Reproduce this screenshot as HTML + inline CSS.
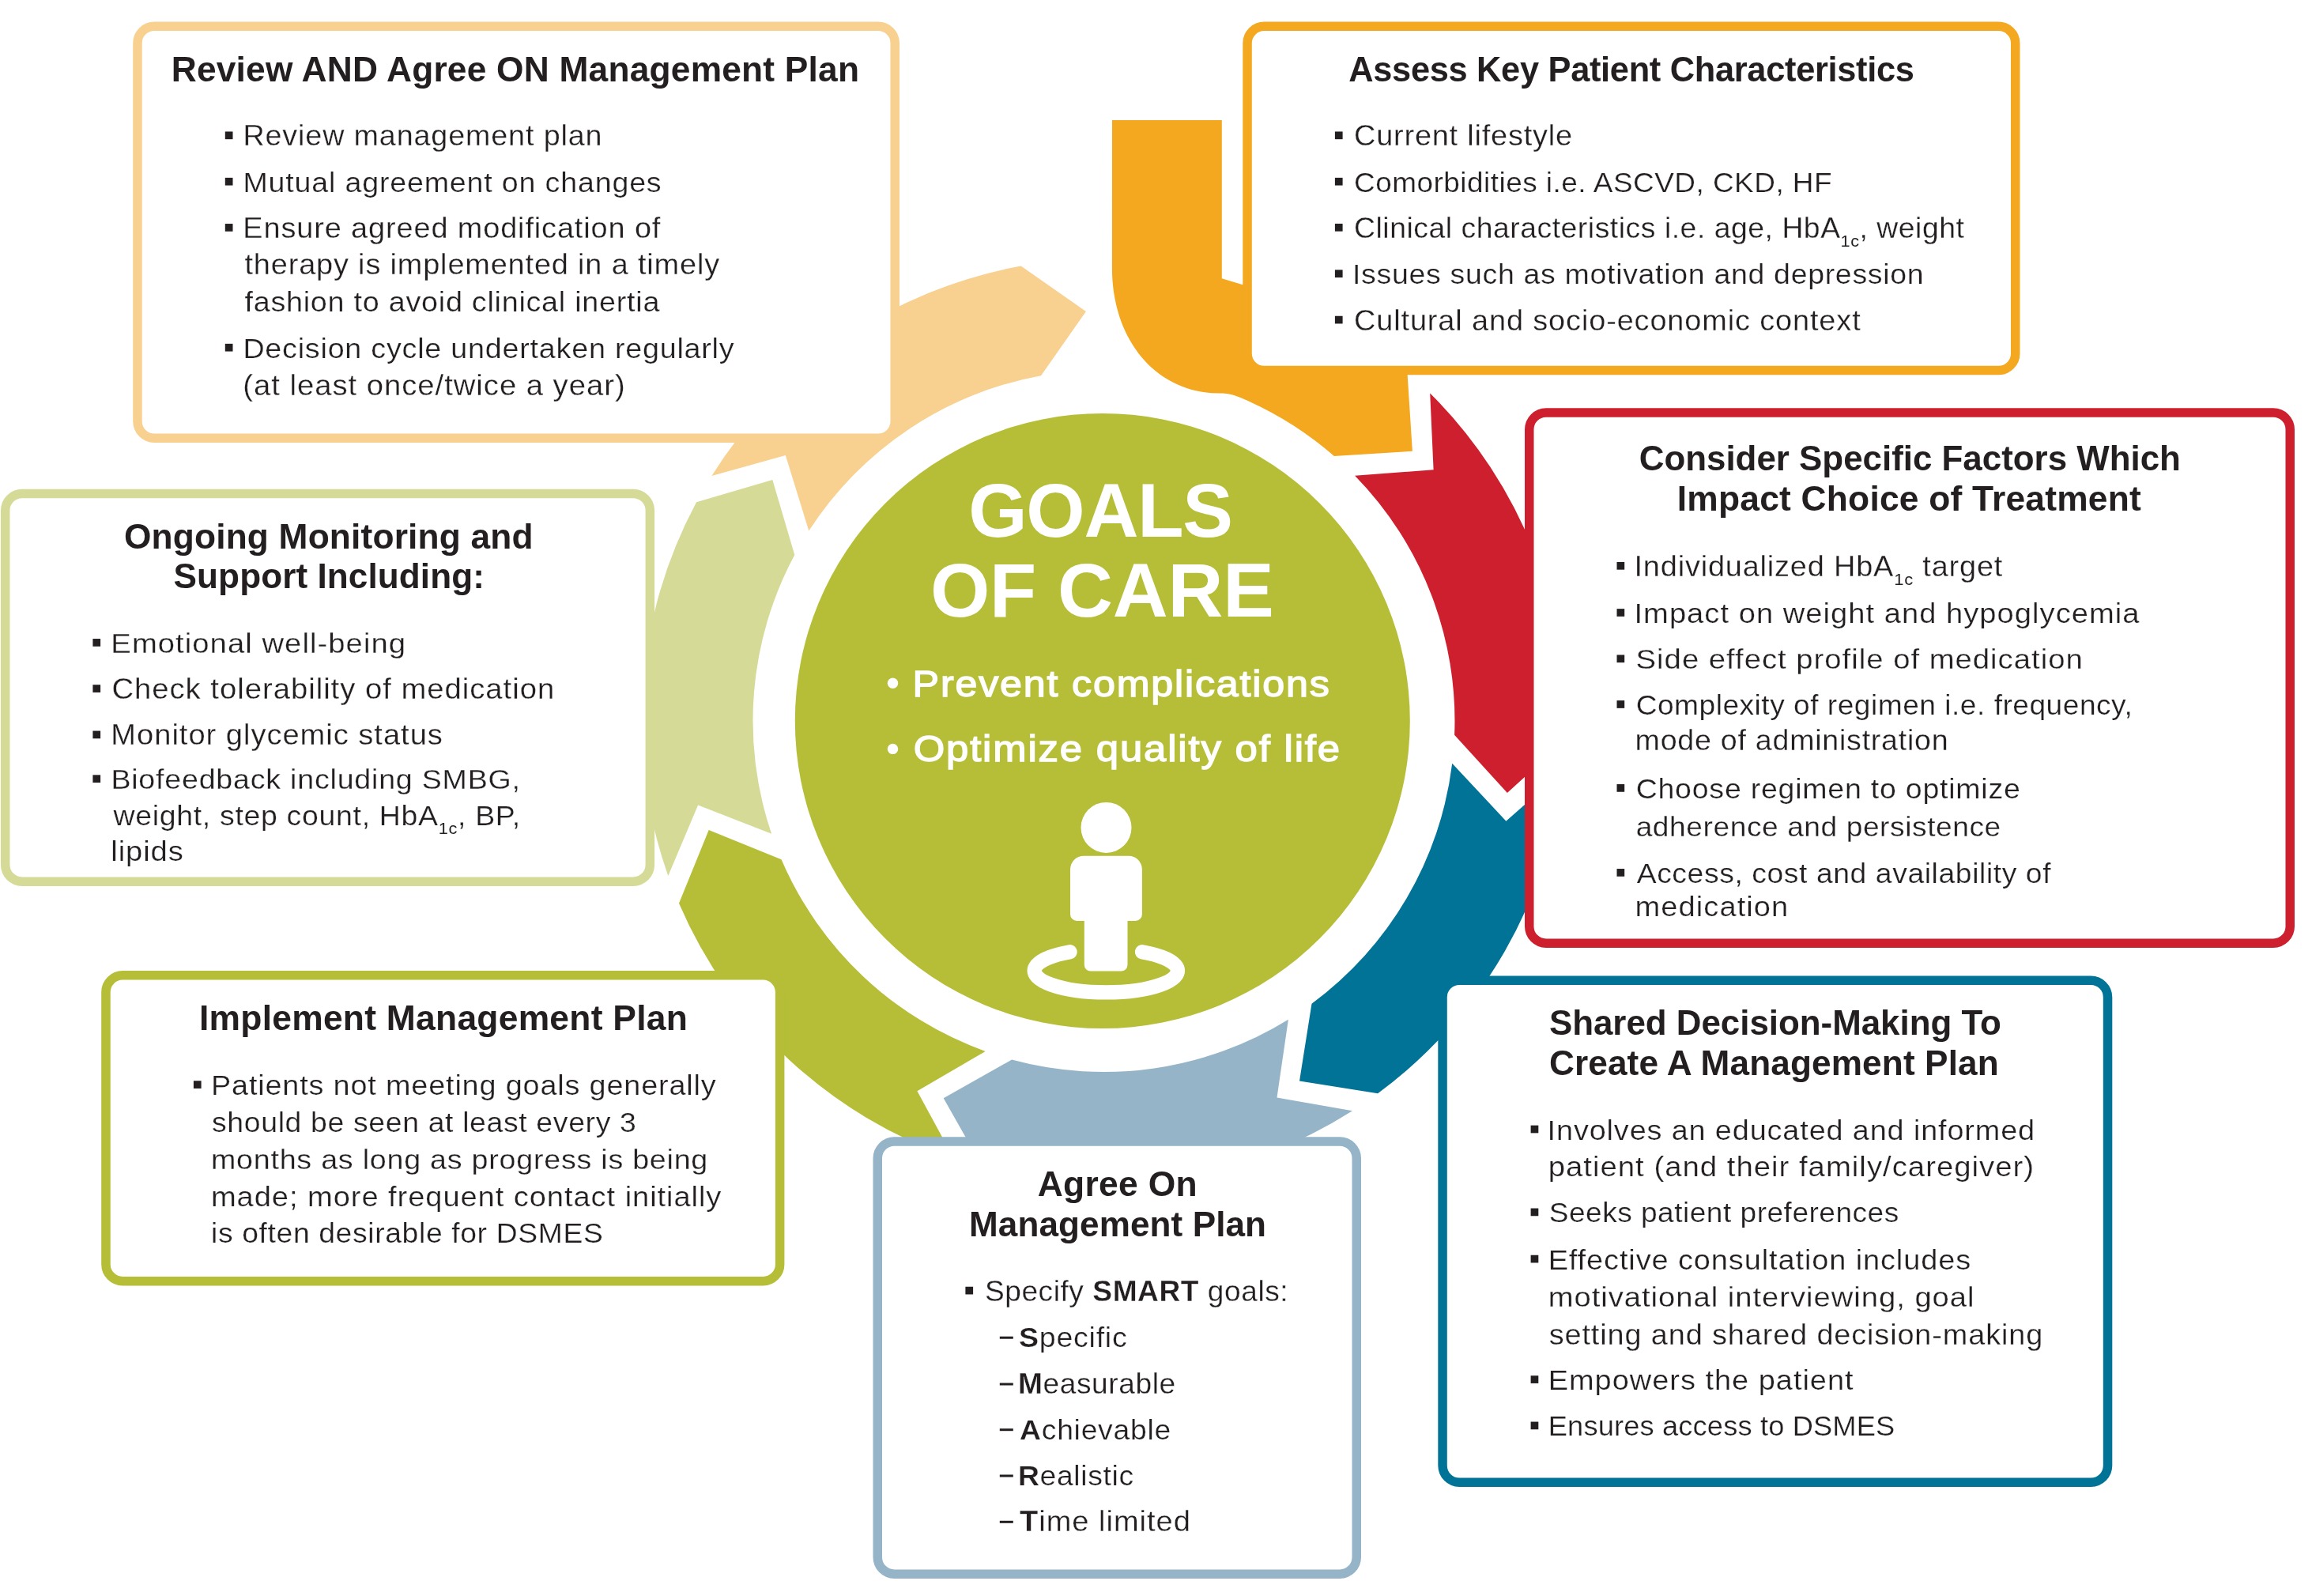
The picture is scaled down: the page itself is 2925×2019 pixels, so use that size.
<!DOCTYPE html>
<html><head><meta charset="utf-8"><title>Goals of Care</title>
<style>html,body{margin:0;padding:0;background:#fff;width:2925px;height:2019px;overflow:hidden}
svg{position:absolute;left:0;top:0;will-change:transform;font-family:"Liberation Sans",sans-serif}</style></head>
<body><svg width="2925" height="2019" viewBox="0 0 2925 2019">
<path fill="#ce1f2e" d="M1809.2,497.4 A585.0,585.0 0 0 1 1981.0,935.5 L1906.9,1003.1 L1840.1,929.8 A444.0,444.0 0 0 0 1714.1,601.7 L1813.6,594.2 Z"/>
<path fill="#007396" d="M1978.1,974.7 A585.0,585.0 0 0 1 1743.1,1383.3 L1644.0,1367.6 L1659.5,1269.7 A444.0,444.0 0 0 0 1837.2,965.7 L1905.4,1038.7 Z"/>
<path fill="#95b4c8" d="M1711.0,1405.3 A585.0,585.0 0 0 1 1243.1,1476.5 L1193.7,1389.2 L1280.1,1340.5 A444.0,444.0 0 0 0 1629.9,1289.7 L1615.5,1388.5 Z"/>
<path fill="#b5be36" d="M1206.7,1465.4 A585.0,585.0 0 0 1 859.0,1142.8 L896.7,1049.9 L988.5,1087.2 A444.0,444.0 0 0 0 1246.6,1329.9 L1160.4,1380.2 Z"/>
<path fill="#d6da97" d="M845.3,1107.9 A585.0,585.0 0 0 1 881.1,635.3 L977.3,606.9 L1005.3,702.0 A444.0,444.0 0 0 0 976.1,1054.8 L883.1,1018.6 Z"/>
<path fill="#f8d08f" d="M900.4,602.0 A585.0,585.0 0 0 1 1291.7,336.5 L1373.9,394.0 L1317.0,475.2 A444.0,444.0 0 0 0 1023.3,671.5 L993.8,576.1 Z"/>
<path fill="#f4a81f" d="M1407,152 L1545.8,152 L1545.8,352.3 L1572.3,360.3 L1800,380 L1780.4,470.6 L1786.9,570.7 L1687.9,577.0 A444.0,444.0 0 0 0 1570.0,503.3 C1558.9,498.6 1554.0,497.4 1542.0,497.4 C1463.7,497.4 1406.9,430.9 1406.9,339 L1407,152 Z"/>
<circle cx="1394.8" cy="912" r="389" fill="#b5be36"/>
<g fill="#fff"><circle cx="1399.5" cy="1046.9" r="32"/><path d="M1371,1082.8 H1427.9 A17,17 0 0 1 1444.9,1099.8 V1156.4 A8.5,8.5 0 0 1 1436.4,1164.9 H1426.5 V1220.6 A8,8 0 0 1 1418.5,1228.6 H1379.8 A8,8 0 0 1 1371.8,1220.6 V1164.9 H1362.5 A8.5,8.5 0 0 1 1354,1156.4 V1099.8 A17,17 0 0 1 1371,1082.8 Z"/></g>
<path d="M1353.7,1204.2 A90.7,27.5 0 1 0 1444.9,1204.2" fill="none" stroke="#fff" stroke-width="18.2" stroke-linecap="round"/>
<rect x="173.95" y="33.25" width="958.30" height="521.00" rx="21.25" fill="#fff" stroke="#f8d08f" stroke-width="11.5"/>
<rect x="1578.05" y="33.35" width="971.70" height="435.10" rx="21.25" fill="#fff" stroke="#f4a81f" stroke-width="11.5"/>
<rect x="1934.75" y="522.05" width="962.50" height="671.10" rx="21.25" fill="#fff" stroke="#ce1f2e" stroke-width="11.5"/>
<rect x="1825.05" y="1240.25" width="841.50" height="635.00" rx="21.25" fill="#fff" stroke="#007396" stroke-width="11.5"/>
<rect x="1110.25" y="1444.05" width="606.00" height="547.10" rx="21.25" fill="#fff" stroke="#95b4c8" stroke-width="11.5"/>
<rect x="133.95" y="1233.85" width="852.70" height="386.80" rx="21.25" fill="#fff" stroke="#b5be36" stroke-width="11.5"/>
<rect x="6.69" y="624.55" width="815.66" height="490.60" rx="21.25" fill="#fff" stroke="#d6da97" stroke-width="11.5"/>
<rect x="284.80" y="166.45" width="9.7" height="9.7" fill="#231f20"/><rect x="284.80" y="224.85" width="9.7" height="9.7" fill="#231f20"/><rect x="284.80" y="283.05" width="9.7" height="9.7" fill="#231f20"/><rect x="284.80" y="434.85" width="9.7" height="9.7" fill="#231f20"/><rect x="1688.90" y="166.45" width="9.7" height="9.7" fill="#231f20"/><rect x="1688.90" y="224.85" width="9.7" height="9.7" fill="#231f20"/><rect x="1688.90" y="282.95" width="9.7" height="9.7" fill="#231f20"/><rect x="1688.90" y="341.35" width="9.7" height="9.7" fill="#231f20"/><rect x="1688.90" y="399.75" width="9.7" height="9.7" fill="#231f20"/><rect x="2045.50" y="710.95" width="9.7" height="9.7" fill="#231f20"/><rect x="2045.50" y="770.15" width="9.7" height="9.7" fill="#231f20"/><rect x="2045.50" y="828.45" width="9.7" height="9.7" fill="#231f20"/><rect x="2045.50" y="886.15" width="9.7" height="9.7" fill="#231f20"/><rect x="2045.50" y="992.05" width="9.7" height="9.7" fill="#231f20"/><rect x="2045.50" y="1099.05" width="9.7" height="9.7" fill="#231f20"/><rect x="1936.60" y="1423.65" width="9.7" height="9.7" fill="#231f20"/><rect x="1936.60" y="1528.55" width="9.7" height="9.7" fill="#231f20"/><rect x="1936.60" y="1587.75" width="9.7" height="9.7" fill="#231f20"/><rect x="1936.60" y="1740.25" width="9.7" height="9.7" fill="#231f20"/><rect x="1936.60" y="1798.55" width="9.7" height="9.7" fill="#231f20"/><rect x="1221.40" y="1627.75" width="9.7" height="9.7" fill="#231f20"/><rect x="244.90" y="1367.25" width="9.7" height="9.7" fill="#231f20"/><rect x="117.40" y="808.05" width="9.7" height="9.7" fill="#231f20"/><rect x="117.40" y="866.25" width="9.7" height="9.7" fill="#231f20"/><rect x="117.40" y="924.55" width="9.7" height="9.7" fill="#231f20"/><rect x="117.40" y="980.35" width="9.7" height="9.7" fill="#231f20"/><rect x="1264.80" y="1690.70" width="17" height="3" fill="#231f20"/><rect x="1264.80" y="1749.50" width="17" height="3" fill="#231f20"/><rect x="1264.80" y="1807.20" width="17" height="3" fill="#231f20"/><rect x="1264.80" y="1865.50" width="17" height="3" fill="#231f20"/><rect x="1264.80" y="1923.80" width="17" height="3" fill="#231f20"/><circle cx="1129.5" cy="864.3" r="6.7" fill="#fff"/><circle cx="1129.5" cy="947.4" r="6.7" fill="#fff"/>
<text transform="translate(216.68,102.50) scale(1.0077,1)" letter-spacing="0.193" fill="#231f20" xml:space="preserve"><tspan font-size="44.00" font-weight="bold" dy="0.00">Review AND Agree ON Management Plan</tspan></text>
<text transform="translate(307.38,184.30) scale(1.0459,1)" letter-spacing="0.861" fill="#231f20" stroke="#fff" stroke-width="0.25" xml:space="preserve"><tspan font-size="36.00" font-weight="normal" dy="0.00">Review management plan</tspan></text>
<text transform="translate(307.38,242.70) scale(1.0445,1)" letter-spacing="0.792" fill="#231f20" stroke="#fff" stroke-width="0.25" xml:space="preserve"><tspan font-size="36.00" font-weight="normal" dy="0.00">Mutual agreement on changes</tspan></text>
<text transform="translate(307.36,300.90) scale(1.0523,1)" letter-spacing="0.846" fill="#231f20" stroke="#fff" stroke-width="0.25" xml:space="preserve"><tspan font-size="36.00" font-weight="normal" dy="0.00">Ensure agreed modification of</tspan></text>
<text transform="translate(309.47,347.30) scale(1.0519,1)" letter-spacing="0.814" fill="#231f20" stroke="#fff" stroke-width="0.25" xml:space="preserve"><tspan font-size="36.00" font-weight="normal" dy="0.00">therapy is implemented in a timely</tspan></text>
<text transform="translate(309.47,394.40) scale(1.0490,1)" letter-spacing="0.699" fill="#231f20" stroke="#fff" stroke-width="0.25" xml:space="preserve"><tspan font-size="36.00" font-weight="normal" dy="0.00">fashion to avoid clinical inertia</tspan></text>
<text transform="translate(307.38,452.70) scale(1.0468,1)" letter-spacing="0.744" fill="#231f20" stroke="#fff" stroke-width="0.25" xml:space="preserve"><tspan font-size="36.00" font-weight="normal" dy="0.00">Decision cycle undertaken regularly</tspan></text>
<text transform="translate(307.34,499.80) scale(1.0622,1)" letter-spacing="0.923" fill="#231f20" stroke="#fff" stroke-width="0.25" xml:space="preserve"><tspan font-size="36.00" font-weight="normal" dy="0.00">(at least once/twice a year)</tspan></text>
<text transform="translate(1706.21,102.50) scale(0.9862,1)" letter-spacing="-0.310" fill="#231f20" xml:space="preserve"><tspan font-size="44.00" font-weight="bold" dy="0.00">Assess Key Patient Characteristics</tspan></text>
<text transform="translate(1713.02,184.30) scale(1.0522,1)" letter-spacing="0.769" fill="#231f20" stroke="#fff" stroke-width="0.25" xml:space="preserve"><tspan font-size="36.00" font-weight="normal" dy="0.00">Current lifestyle</tspan></text>
<text transform="translate(1713.05,242.70) scale(1.0267,1)" letter-spacing="0.466" fill="#231f20" stroke="#fff" stroke-width="0.25" xml:space="preserve"><tspan font-size="36.00" font-weight="normal" dy="0.00">Comorbidities i.e. ASCVD, CKD, HF</tspan></text>
<text transform="translate(1713.03,300.80) scale(1.0359,1)" letter-spacing="0.530" fill="#231f20" stroke="#fff" stroke-width="0.25" xml:space="preserve"><tspan font-size="36.00" font-weight="normal" dy="0.00">Clinical characteristics i.e. age, HbA</tspan><tspan font-size="20.88" font-weight="normal" dy="10.80" stroke-width="0">1c</tspan><tspan font-size="36.00" font-weight="normal" dy="-10.80">, weight</tspan></text>
<text transform="translate(1710.95,359.20) scale(1.0409,1)" letter-spacing="0.669" fill="#231f20" stroke="#fff" stroke-width="0.25" xml:space="preserve"><tspan font-size="36.00" font-weight="normal" dy="0.00">Issues such as motivation and depression</tspan></text>
<text transform="translate(1713.02,417.60) scale(1.0523,1)" letter-spacing="0.846" fill="#231f20" stroke="#fff" stroke-width="0.25" xml:space="preserve"><tspan font-size="36.00" font-weight="normal" dy="0.00">Cultural and socio-economic context</tspan></text>
<text transform="translate(2073.70,594.50) scale(0.9987,1)" letter-spacing="-0.029" fill="#231f20" xml:space="preserve"><tspan font-size="44.00" font-weight="bold" dy="0.00">Consider Specific Factors Which</tspan></text>
<text transform="translate(2121.78,645.90) scale(1.0087,1)" letter-spacing="0.199" fill="#231f20" xml:space="preserve"><tspan font-size="44.00" font-weight="bold" dy="0.00">Impact Choice of Treatment</tspan></text>
<text transform="translate(2067.51,728.80) scale(1.0519,1)" letter-spacing="0.795" fill="#231f20" stroke="#fff" stroke-width="0.25" xml:space="preserve"><tspan font-size="36.00" font-weight="normal" dy="0.00">Individualized HbA</tspan><tspan font-size="20.88" font-weight="normal" dy="10.80" stroke-width="0">1c</tspan><tspan font-size="36.00" font-weight="normal" dy="-10.80"> target</tspan></text>
<text transform="translate(2067.49,788.00) scale(1.0586,1)" letter-spacing="0.987" fill="#231f20" stroke="#fff" stroke-width="0.25" xml:space="preserve"><tspan font-size="36.00" font-weight="normal" dy="0.00">Impact on weight and hypoglycemia</tspan></text>
<text transform="translate(2069.60,846.30) scale(1.0636,1)" letter-spacing="0.931" fill="#231f20" stroke="#fff" stroke-width="0.25" xml:space="preserve"><tspan font-size="36.00" font-weight="normal" dy="0.00">Side effect profile of medication</tspan></text>
<text transform="translate(2069.64,904.00) scale(1.0312,1)" letter-spacing="0.494" fill="#231f20" stroke="#fff" stroke-width="0.25" xml:space="preserve"><tspan font-size="36.00" font-weight="normal" dy="0.00">Complexity of regimen i.e. frequency,</tspan></text>
<text transform="translate(2068.58,948.80) scale(1.0440,1)" letter-spacing="0.723" fill="#231f20" stroke="#fff" stroke-width="0.25" xml:space="preserve"><tspan font-size="36.00" font-weight="normal" dy="0.00">mode of administration</tspan></text>
<text transform="translate(2069.63,1009.90) scale(1.0425,1)" letter-spacing="0.728" fill="#231f20" stroke="#fff" stroke-width="0.25" xml:space="preserve"><tspan font-size="36.00" font-weight="normal" dy="0.00">Choose regimen to optimize</tspan></text>
<text transform="translate(2069.64,1057.70) scale(1.0317,1)" letter-spacing="0.553" fill="#231f20" stroke="#fff" stroke-width="0.25" xml:space="preserve"><tspan font-size="36.00" font-weight="normal" dy="0.00">adherence and persistence</tspan></text>
<text transform="translate(2070.67,1116.90) scale(1.0366,1)" letter-spacing="0.557" fill="#231f20" stroke="#fff" stroke-width="0.25" xml:space="preserve"><tspan font-size="36.00" font-weight="normal" dy="0.00">Access, cost and availability of</tspan></text>
<text transform="translate(2068.55,1158.60) scale(1.0571,1)" letter-spacing="1.018" fill="#231f20" stroke="#fff" stroke-width="0.25" xml:space="preserve"><tspan font-size="36.00" font-weight="normal" dy="0.00">medication</tspan></text>
<text transform="translate(1959.90,1309.30) scale(0.9986,1)" letter-spacing="-0.034" fill="#231f20" xml:space="preserve"><tspan font-size="44.00" font-weight="bold" dy="0.00">Shared Decision-Making To</tspan></text>
<text transform="translate(1959.90,1359.90) scale(1.0045,1)" letter-spacing="0.110" fill="#231f20" xml:space="preserve"><tspan font-size="44.00" font-weight="bold" dy="0.00">Create A Management Plan</tspan></text>
<text transform="translate(1957.62,1441.50) scale(1.0505,1)" letter-spacing="0.834" fill="#231f20" stroke="#fff" stroke-width="0.25" xml:space="preserve"><tspan font-size="36.00" font-weight="normal" dy="0.00">Involves an educated and informed</tspan></text>
<text transform="translate(1958.64,1488.10) scale(1.0650,1)" letter-spacing="0.942" fill="#231f20" stroke="#fff" stroke-width="0.25" xml:space="preserve"><tspan font-size="36.00" font-weight="normal" dy="0.00">patient (and their family/caregiver)</tspan></text>
<text transform="translate(1959.74,1546.40) scale(1.0292,1)" letter-spacing="0.492" fill="#231f20" stroke="#fff" stroke-width="0.25" xml:space="preserve"><tspan font-size="36.00" font-weight="normal" dy="0.00">Seeks patient preferences</tspan></text>
<text transform="translate(1958.66,1605.60) scale(1.0552,1)" letter-spacing="0.834" fill="#231f20" stroke="#fff" stroke-width="0.25" xml:space="preserve"><tspan font-size="36.00" font-weight="normal" dy="0.00">Effective consultation includes</tspan></text>
<text transform="translate(1958.64,1653.20) scale(1.0616,1)" letter-spacing="0.920" fill="#231f20" stroke="#fff" stroke-width="0.25" xml:space="preserve"><tspan font-size="36.00" font-weight="normal" dy="0.00">motivational interviewing, goal</tspan></text>
<text transform="translate(1959.72,1700.50) scale(1.0515,1)" letter-spacing="0.836" fill="#231f20" stroke="#fff" stroke-width="0.25" xml:space="preserve"><tspan font-size="36.00" font-weight="normal" dy="0.00">setting and shared decision-making</tspan></text>
<text transform="translate(1958.66,1758.10) scale(1.0546,1)" letter-spacing="0.942" fill="#231f20" stroke="#fff" stroke-width="0.25" xml:space="preserve"><tspan font-size="36.00" font-weight="normal" dy="0.00">Empowers the patient</tspan></text>
<text transform="translate(1958.76,1816.40) scale(1.0075,1)" letter-spacing="0.144" fill="#231f20" stroke="#fff" stroke-width="0.25" xml:space="preserve"><tspan font-size="36.00" font-weight="normal" dy="0.00">Ensures access to DSMES</tspan></text>
<text transform="translate(1312.69,1512.80) scale(1.0101,1)" letter-spacing="0.278" fill="#231f20" xml:space="preserve"><tspan font-size="44.00" font-weight="bold" dy="0.00">Agree On</tspan></text>
<text transform="translate(1225.99,1564.00) scale(1.0028,1)" letter-spacing="0.074" fill="#231f20" xml:space="preserve"><tspan font-size="44.00" font-weight="bold" dy="0.00">Management Plan</tspan></text>
<text transform="translate(1245.94,1645.60) scale(1.0301,1)" letter-spacing="0.550" fill="#231f20" stroke="#fff" stroke-width="0.25" xml:space="preserve"><tspan font-size="36.00" font-weight="normal" dy="0.00">Specify </tspan><tspan font-size="36.00" font-weight="bold" dy="0.00">SMART</tspan><tspan font-size="36.00" font-weight="normal" dy="0.00"> goals:</tspan></text>
<text transform="translate(1289.03,1704.20) scale(1.0425,1)" letter-spacing="0.726" fill="#231f20" stroke="#fff" stroke-width="0.25" xml:space="preserve"><tspan font-size="36.00" font-weight="bold" dy="0.00">S</tspan><tspan font-size="36.00" font-weight="normal" dy="0.00">pecific</tspan></text>
<text transform="translate(1288.01,1763.00) scale(1.0299,1)" letter-spacing="0.597" fill="#231f20" stroke="#fff" stroke-width="0.25" xml:space="preserve"><tspan font-size="36.00" font-weight="bold" dy="0.00">M</tspan><tspan font-size="36.00" font-weight="normal" dy="0.00">easurable</tspan></text>
<text transform="translate(1290.07,1820.70) scale(1.0370,1)" letter-spacing="0.700" fill="#231f20" stroke="#fff" stroke-width="0.25" xml:space="preserve"><tspan font-size="36.00" font-weight="bold" dy="0.00">A</tspan><tspan font-size="36.00" font-weight="normal" dy="0.00">chievable</tspan></text>
<text transform="translate(1288.00,1879.00) scale(1.0374,1)" letter-spacing="0.603" fill="#231f20" stroke="#fff" stroke-width="0.25" xml:space="preserve"><tspan font-size="36.00" font-weight="bold" dy="0.00">R</tspan><tspan font-size="36.00" font-weight="normal" dy="0.00">ealistic</tspan></text>
<text transform="translate(1290.07,1937.30) scale(1.0564,1)" letter-spacing="0.931" fill="#231f20" stroke="#fff" stroke-width="0.25" xml:space="preserve"><tspan font-size="36.00" font-weight="bold" dy="0.00">T</tspan><tspan font-size="36.00" font-weight="normal" dy="0.00">ime limited</tspan></text>
<text transform="translate(251.98,1303.10) scale(1.0096,1)" letter-spacing="0.238" fill="#231f20" xml:space="preserve"><tspan font-size="44.00" font-weight="bold" dy="0.00">Implement Management Plan</tspan></text>
<text transform="translate(266.97,1385.10) scale(1.0506,1)" letter-spacing="0.795" fill="#231f20" stroke="#fff" stroke-width="0.25" xml:space="preserve"><tspan font-size="36.00" font-weight="normal" dy="0.00">Patients not meeting goals generally</tspan></text>
<text transform="translate(268.03,1432.30) scale(1.0390,1)" letter-spacing="0.620" fill="#231f20" stroke="#fff" stroke-width="0.25" xml:space="preserve"><tspan font-size="36.00" font-weight="normal" dy="0.00">should be seen at least every 3</tspan></text>
<text transform="translate(266.98,1478.50) scale(1.0455,1)" letter-spacing="0.732" fill="#231f20" stroke="#fff" stroke-width="0.25" xml:space="preserve"><tspan font-size="36.00" font-weight="normal" dy="0.00">months as long as progress is being</tspan></text>
<text transform="translate(266.95,1525.80) scale(1.0585,1)" letter-spacing="0.884" fill="#231f20" stroke="#fff" stroke-width="0.25" xml:space="preserve"><tspan font-size="36.00" font-weight="normal" dy="0.00">made; more frequent contact initially</tspan></text>
<text transform="translate(267.00,1572.30) scale(1.0366,1)" letter-spacing="0.600" fill="#231f20" stroke="#fff" stroke-width="0.25" xml:space="preserve"><tspan font-size="36.00" font-weight="normal" dy="0.00">is often desirable for DSMES</tspan></text>
<text transform="translate(156.89,693.80) scale(1.0069,1)" letter-spacing="0.166" fill="#231f20" xml:space="preserve"><tspan font-size="44.00" font-weight="bold" dy="0.00">Ongoing Monitoring and</tspan></text>
<text transform="translate(219.60,744.40) scale(1.0031,1)" letter-spacing="0.071" fill="#231f20" xml:space="preserve"><tspan font-size="44.00" font-weight="bold" dy="0.00">Support Including:</tspan></text>
<text transform="translate(140.34,825.90) scale(1.0616,1)" letter-spacing="1.001" fill="#231f20" stroke="#fff" stroke-width="0.25" xml:space="preserve"><tspan font-size="36.00" font-weight="normal" dy="0.00">Emotional well-being</tspan></text>
<text transform="translate(141.41,884.10) scale(1.0622,1)" letter-spacing="0.934" fill="#231f20" stroke="#fff" stroke-width="0.25" xml:space="preserve"><tspan font-size="36.00" font-weight="normal" dy="0.00">Check tolerability of medication</tspan></text>
<text transform="translate(140.35,942.40) scale(1.0581,1)" letter-spacing="0.931" fill="#231f20" stroke="#fff" stroke-width="0.25" xml:space="preserve"><tspan font-size="36.00" font-weight="normal" dy="0.00">Monitor glycemic status</tspan></text>
<text transform="translate(140.38,998.20) scale(1.0439,1)" letter-spacing="0.762" fill="#231f20" stroke="#fff" stroke-width="0.25" xml:space="preserve"><tspan font-size="36.00" font-weight="normal" dy="0.00">Biofeedback including SMBG,</tspan></text>
<text transform="translate(143.51,1044.40) scale(1.0412,1)" letter-spacing="0.646" fill="#231f20" stroke="#fff" stroke-width="0.25" xml:space="preserve"><tspan font-size="36.00" font-weight="normal" dy="0.00">weight, step count, HbA</tspan><tspan font-size="20.88" font-weight="normal" dy="10.80" stroke-width="0">1c</tspan><tspan font-size="36.00" font-weight="normal" dy="-10.80">, BP,</tspan></text>
<text transform="translate(140.35,1089.10) scale(1.0585,1)" letter-spacing="0.870" fill="#231f20" stroke="#fff" stroke-width="0.25" xml:space="preserve"><tspan font-size="36.00" font-weight="normal" dy="0.00">lipids</tspan></text>
<text transform="translate(1225.24,679.20) scale(0.9852,1)" letter-spacing="-1.269" fill="#fff" xml:space="preserve"><tspan font-size="97.00" font-weight="bold" dy="0.00">GOALS</tspan></text>
<text transform="translate(1176.91,779.80) scale(0.9983,1)" letter-spacing="-0.125" fill="#fff" xml:space="preserve"><tspan font-size="97.00" font-weight="bold" dy="0.00">OF CARE</tspan></text>
<text transform="translate(1154.62,880.90) scale(1.0799,1)" letter-spacing="1.673" fill="#fff" stroke="#fff" stroke-width="1.4" xml:space="preserve"><tspan font-size="46.50" font-weight="normal" dy="0.00">Prevent complications</tspan></text>
<text transform="translate(1155.68,962.90) scale(1.0934,1)" letter-spacing="1.680" fill="#fff" stroke="#fff" stroke-width="1.4" xml:space="preserve"><tspan font-size="46.50" font-weight="normal" dy="0.00">Optimize quality of life</tspan></text>
</svg></body></html>
